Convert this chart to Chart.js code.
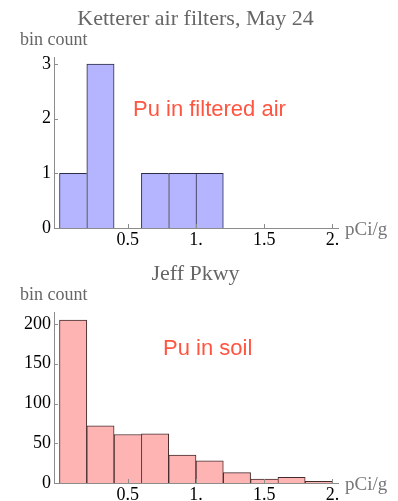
<!DOCTYPE html>
<html>
<head>
<meta charset="utf-8">
<script src="https://cdn.jsdelivr.net/npm/chart.js@4.4.0/dist/chart.umd.min.js"></script>
<style>
  html, body { margin: 0; padding: 0; background: #fff; }
  .box { position: absolute; left: 0; width: 398px; }
</style>
</head>
<body>
<div class="box" style="top:0;height:250px"><canvas id="airChart" width="398" height="250"></canvas></div>
<div class="box" style="top:250px;height:251px"><canvas id="soilChart" width="398" height="251"></canvas></div>
<script>
// bins are 0.2 pCi/g wide, from 0 to 2
const binCenters = [0.1, 0.3, 0.5, 0.7, 0.9, 1.1, 1.3, 1.5, 1.7, 1.9];
const airCounts = [1, 3, 0, 1, 1, 1, 0, 0, 0, 0];
const soilCounts = [205, 72, 61, 62, 35, 28, 13, 5, 7, 2];

const xTickValues = [0.5, 1, 1.5, 2];
const xTickLabels = ['0.5', '1.', '1.5', '2.'];
const airYTicks = [0, 1, 2, 3];
const soilYTicks = [0, 50, 100, 150, 200];

const serif = '"Liberation Serif", "Times New Roman", serif';
const sans = '"Liberation Sans", Arial, sans-serif';
const axisGray = '#8c8c8c';

function makeHist(id, opts) {
  const counts = opts.counts;

  // titles, axis names, note text and the small inward ticks
  const decor = {
    id: 'decor',
    afterDatasetsDraw(chart) {
      const ctx = chart.ctx;
      const { left, bottom } = chart.chartArea;
      const xs = chart.scales.x, ys = chart.scales.y;
      ctx.save();
      ctx.strokeStyle = axisGray;
      ctx.lineWidth = 1;
      ctx.beginPath();
      xTickValues.forEach(v => {
        const px = Math.round(xs.getPixelForValue(v)) + 0.5;
        ctx.moveTo(px, bottom);
        ctx.lineTo(px, bottom - 4);
      });
      opts.yTicks.forEach(v => {
        const py = Math.round(ys.getPixelForValue(v)) + 0.5;
        ctx.moveTo(left, py);
        ctx.lineTo(left + 4, py);
      });
      ctx.stroke();

      ctx.textBaseline = 'alphabetic';
      ctx.fillStyle = '#666';
      ctx.font = '22px ' + serif;
      ctx.textAlign = 'center';
      ctx.fillText(opts.title, 195.5, opts.titleY);

      ctx.font = '18px ' + serif;
      ctx.textAlign = 'left';
      ctx.fillText('bin count', 20, opts.yNameY);

      ctx.fillStyle = '#777';
      ctx.font = '19px ' + serif;
      ctx.fillText('pCi/g', 345, bottom + 7);

      ctx.fillStyle = '#ff5540';
      ctx.font = '22px ' + sans;
      ctx.fillText(opts.note, opts.noteX, opts.noteY);
      ctx.restore();
    }
  };

  return new Chart(document.getElementById(id), {
    type: 'bar',
    data: {
      datasets: [{
        data: binCenters.map((x, i) => ({ x: x, y: counts[i] > 0 ? counts[i] : null })),
        backgroundColor: opts.fill,
        borderColor: opts.edge,
        borderWidth: c => {
          const i = c.dataIndex;
          const next = i + 1 < counts.length ? counts[i + 1] : 0;
          return { top: 1, left: 1, right: next < counts[i] ? 1 : 0, bottom: 0 };
        },
        barPercentage: 1,
        categoryPercentage: 1
      }]
    },
    options: {
      responsive: false,
      animation: false,
      layout: { padding: { left: 0, right: 60, top: opts.top, bottom: 0 } },
      plugins: { legend: { display: false }, tooltip: { enabled: false } },
      scales: {
        x: {
          type: 'linear',
          offset: false,
          min: -0.0403,
          max: 2.0403,
          grid: { display: false, drawTicks: false, offset: false },
          border: { color: axisGray, width: 1 },
          afterBuildTicks: s => { s.ticks = xTickValues.map(v => ({ value: v })); },
          afterFit: s => { s.height = opts.xHeight; },
          ticks: {
            callback: (v, i) => xTickLabels[i],
            font: { family: serif, size: 18 },
            color: '#000',
            padding: 1,
            maxRotation: 0,
            autoSkip: false
          }
        },
        y: {
          min: 0,
          max: opts.yMax,
          grid: { display: false, drawTicks: false },
          border: { color: axisGray, width: 1 },
          afterBuildTicks: s => { s.ticks = opts.yTicks.map(v => ({ value: v })); },
          afterFit: s => { s.width = 54; },
          ticks: {
            font: { family: serif, size: 18 },
            color: '#000',
            padding: 3
          }
        }
      }
    },
    plugins: [decor]
  });
}

makeHist('airChart', {
  counts: airCounts,
  yTicks: airYTicks,
  yMax: 3.128,
  top: 57,
  xHeight: 22,
  fill: 'rgb(180,180,255)',
  edge: '#2c2c44',
  title: 'Ketterer air filters, May 24',
  titleY: 25,
  yNameY: 45,
  note: 'Pu in filtered air',
  noteX: 133,
  noteY: 116
});

makeHist('soilChart', {
  counts: soilCounts,
  yTicks: soilYTicks,
  yMax: 215.1,
  top: 62,
  xHeight: 18,
  fill: 'rgb(255,180,180)',
  edge: '#442c2c',
  title: 'Jeff Pkwy',
  titleY: 30,
  yNameY: 50,
  note: 'Pu in soil',
  noteX: 163,
  noteY: 105
});
</script>
</body>
</html>
